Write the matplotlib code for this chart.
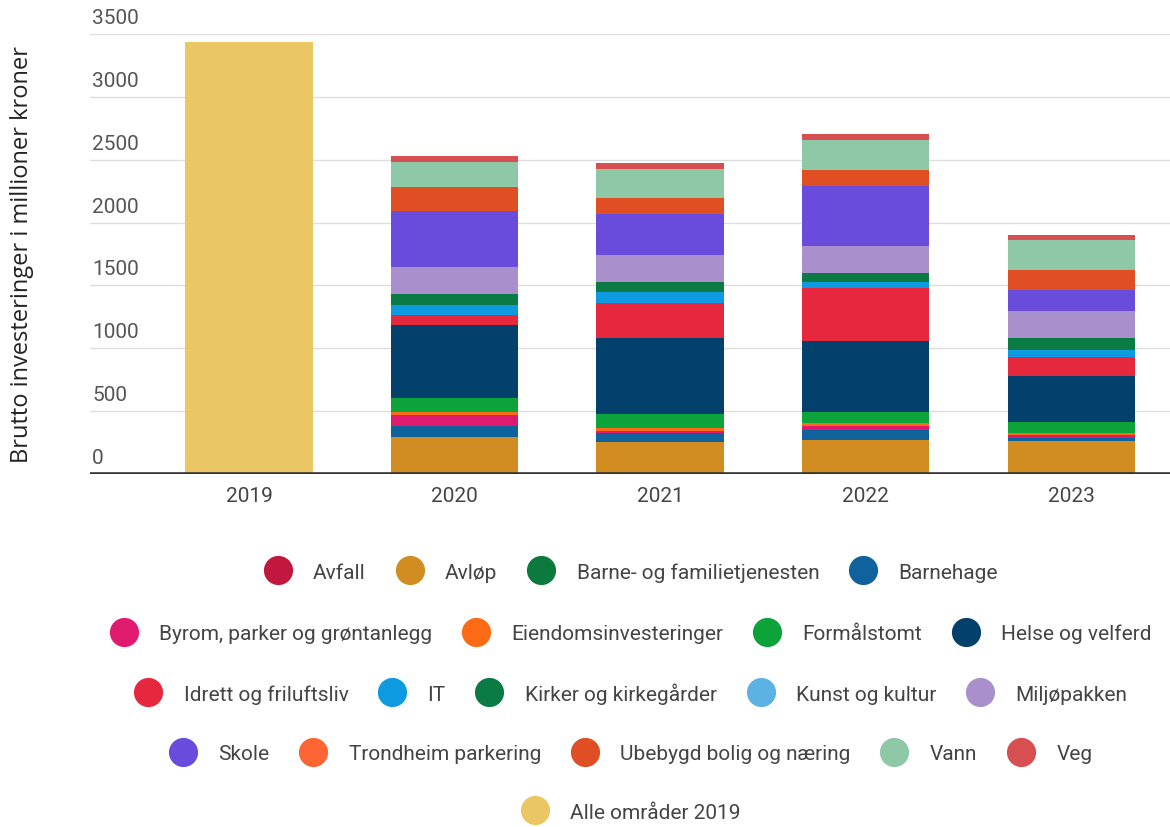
import matplotlib
matplotlib.use("Agg")
import matplotlib.pyplot as plt
from matplotlib.lines import Line2D
from matplotlib.transforms import ScaledTranslation
import numpy as np

years = ["2019", "2020", "2021", "2022", "2023"]

# values in millioner kroner, 2019 is only given as a total
avfall = [0, 0, 0, 0, 0]
avlop = [0, 296, 256, 272, 264]
barne_familie = [0, 0, 0, 0, 0]
barnehage = [0, 87, 70, 80, 26]
byrom = [0, 90, 20, 30, 20]
eiendom = [0, 20, 22, 23, 20]
formalstomt = [0, 110, 110, 85, 84]
helse = [0, 582, 603, 568, 365]
idrett = [0, 82, 283, 424, 154]
it = [0, 79, 85, 44, 53]
kirker = [0, 88, 79, 75, 98]
kunst = [0, 0, 0, 0, 0]
miljopakken = [0, 216, 217, 216, 209]
skole = [0, 442, 326, 471, 174]
parkering = [0, 0, 0, 0, 0]
ubebygd = [0, 188, 127, 127, 159]
vann = [0, 204, 230, 238, 233]
veg = [0, 48, 48, 53, 39]
alle_2019 = [3440, 0, 0, 0, 0]

series = [
    ("Avfall", avfall, "#c2173f"),
    ("Avløp", avlop, "#d18d22"),
    ("Barne- og familietjenesten", barne_familie, "#0c7a3c"),
    ("Barnehage", barnehage, "#10629c"),
    ("Byrom, parker og grøntanlegg", byrom, "#e01a6e"),
    ("Eiendomsinvesteringer", eiendom, "#fb6a14"),
    ("Formålstomt", formalstomt, "#0ca33a"),
    ("Helse og velferd", helse, "#03406b"),
    ("Idrett og friluftsliv", idrett, "#e6283e"),
    ("IT", it, "#0d9ae0"),
    ("Kirker og kirkegårder", kirker, "#0a7b44"),
    ("Kunst og kultur", kunst, "#5cb3e3"),
    ("Miljøpakken", miljopakken, "#a98fcb"),
    ("Skole", skole, "#6a4cdc"),
    ("Trondheim parkering", parkering, "#fd6534"),
    ("Ubebygd bolig og næring", ubebygd, "#e04e24"),
    ("Vann", vann, "#8ec8a7"),
    ("Veg", veg, "#d84f52"),
    ("Alle områder 2019", alle_2019, "#ebc665"),
]

legend_rows = [
    ["Avfall", "Avløp", "Barne- og familietjenesten", "Barnehage"],
    ["Byrom, parker og grøntanlegg", "Eiendomsinvesteringer", "Formålstomt", "Helse og velferd"],
    ["Idrett og friluftsliv", "IT", "Kirker og kirkegårder", "Kunst og kultur", "Miljøpakken"],
    ["Skole", "Trondheim parkering", "Ubebygd bolig og næring", "Vann", "Veg"],
    ["Alle områder 2019"],
]

yticks = [0, 500, 1000, 1500, 2000, 2500, 3000, 3500]

plt.rcParams["font.family"] = ["Roboto", "DejaVu Sans"]
fig = plt.figure(figsize=(11.7, 8.28), dpi=100)
ax = fig.add_axes([90 / 1170, 1 - 475 / 828, 1080 / 1170, 440 / 828])

x = np.arange(len(years))
bottom = np.zeros(len(years))
for name, vals, color in series:
    vals = np.array(vals, dtype=float)
    ax.bar(x, vals, width=0.62, bottom=bottom, color=color, linewidth=0, zorder=2)
    bottom += vals

ax.set_xlim(-0.774, 4.48)
ax.set_ylim(0, 3500)
for s in ax.spines.values():
    s.set_visible(False)
ax.set_yticks(yticks)
ax.set_yticklabels([])
ax.tick_params(axis="y", length=0)
ax.grid(axis="y", color="#dddddd", linewidth=1, zorder=0)
ax.axhline(0, color="#333333", linewidth=2.6, zorder=3)

ax.set_xticks(x)
ax.set_xticklabels(years, fontsize=15, color="#444444")
ax.tick_params(axis="x", length=0, pad=9)

off = ScaledTranslation(0, 5 / 72, fig.dpi_scale_trans)
for v in yticks:
    ax.text(0.002, v, str(v), transform=ax.get_yaxis_transform() + off,
            ha="left", va="bottom", fontsize=15, color="#555555")

fig.text(0.019, 0.693, "Brutto investeringer i millioner kroner", rotation=90,
         ha="center", va="center", fontsize=17, family="Open Sans", color="#222222")

colors = {name: color for name, _, color in series}
row_y = [0.308, 0.234, 0.162, 0.089, 0.018]
for labels, yy in zip(legend_rows, row_y):
    handles = [Line2D([], [], marker="o", linestyle="none", markersize=21,
                      markerfacecolor=colors[l], markeredgewidth=0) for l in labels]
    leg = fig.legend(handles, labels, loc="center", bbox_to_anchor=(0.538, yy),
                     ncol=len(labels), frameon=False, fontsize=15,
                     handlelength=1.6, handletextpad=0.9, columnspacing=1.3,
                     borderpad=0, borderaxespad=0)
    for t in leg.get_texts():
        t.set_color("#444444")

fig.savefig("out.png", dpi=100)
